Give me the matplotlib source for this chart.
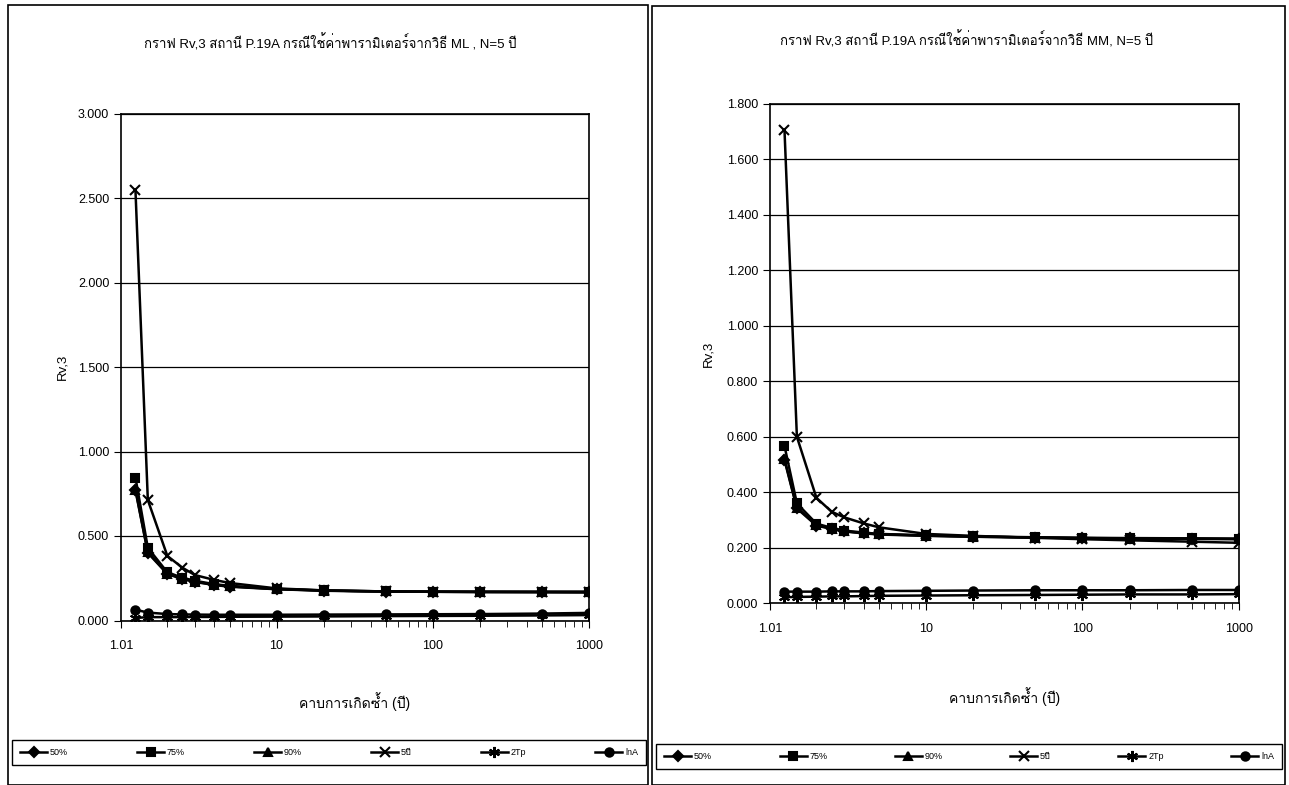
import matplotlib
matplotlib.use("Agg")
import matplotlib.pyplot as plt
from matplotlib import font_manager, ft2font
from matplotlib.patches import Rectangle
from matplotlib.ticker import FixedLocator, FixedFormatter, FormatStrFormatter, LogLocator, NullFormatter


# Pick a family that has Thai glyphs, as a fallback after Liberation Sans
def find_thai_family():
    for f in font_manager.fontManager.ttflist:
        try:
            if 0x0E01 in ft2font.FT2Font(f.fname).get_charmap():
                return f.name
        except Exception:
            continue
    return None


thai = find_thai_family()
families = ["Liberation Sans"] + ([thai] if thai else []) + ["DejaVu Sans"]
plt.rcParams["font.family"] = families

# Return periods (years)
return_period = [1.25, 1.5, 2, 2.5, 3, 4, 5, 10, 20, 50, 100, 200, 500, 1000]
series_names = ["50%", "75%", "90%", "5ปี", "2Tp", "lnA"]

# ML method
ml_50 = [0.770, 0.400, 0.275, 0.245, 0.228, 0.210, 0.200, 0.185, 0.176, 0.171, 0.170, 0.169, 0.169, 0.168]
ml_75 = [0.845, 0.430, 0.285, 0.253, 0.235, 0.215, 0.205, 0.187, 0.178, 0.172, 0.171, 0.170, 0.170, 0.170]
ml_90 = [0.775, 0.405, 0.278, 0.248, 0.230, 0.212, 0.202, 0.186, 0.177, 0.172, 0.170, 0.170, 0.169, 0.169]
ml_5y = [2.545, 0.713, 0.382, 0.312, 0.269, 0.240, 0.222, 0.190, 0.178, 0.172, 0.170, 0.168, 0.167, 0.166]
ml_2tp = [0.015, 0.020, 0.020, 0.020, 0.021, 0.021, 0.022, 0.023, 0.024, 0.026, 0.027, 0.028, 0.030, 0.032]
ml_lna = [0.064, 0.047, 0.038, 0.036, 0.035, 0.034, 0.034, 0.034, 0.035, 0.036, 0.037, 0.038, 0.041, 0.045]

# MM method
mm_50 = [0.516, 0.342, 0.280, 0.268, 0.259, 0.252, 0.248, 0.243, 0.240, 0.237, 0.235, 0.234, 0.233, 0.232]
mm_75 = [0.567, 0.360, 0.287, 0.272, 0.262, 0.255, 0.250, 0.245, 0.241, 0.238, 0.236, 0.235, 0.234, 0.233]
mm_90 = [0.520, 0.345, 0.282, 0.269, 0.260, 0.253, 0.249, 0.244, 0.240, 0.237, 0.235, 0.233, 0.232, 0.231]
mm_5y = [1.705, 0.600, 0.380, 0.330, 0.310, 0.288, 0.274, 0.250, 0.243, 0.236, 0.231, 0.227, 0.222, 0.218]
mm_2tp = [0.022, 0.023, 0.024, 0.025, 0.025, 0.026, 0.027, 0.028, 0.029, 0.030, 0.031, 0.032, 0.032, 0.033]
mm_lna = [0.042, 0.042, 0.042, 0.043, 0.043, 0.043, 0.044, 0.045, 0.046, 0.047, 0.047, 0.047, 0.048, 0.048]

markers = ["D", "s", "^", "x", (6, 2, 0), "o"]
marker_sizes = [5, 6, 6, 7, 8, 6]

x_ticks = [1.01, 10, 100, 1000]
x_tick_labels = ["1.01", "10", "100", "1000"]

fig = plt.figure(figsize=(12.89, 7.85), dpi=100)

# panel frames
fig.patches.append(Rectangle((8 / 1289, 0), 640 / 1289, 1 - 5 / 785, transform=fig.transFigure,
                             fill=False, edgecolor="black", linewidth=1.2))
fig.patches.append(Rectangle((652 / 1289, 0), 633 / 1289, 1 - 6 / 785, transform=fig.transFigure,
                             fill=False, edgecolor="black", linewidth=1.2))


def draw_panel(rect, data, ymax, ystep, title, title_xy, ylabel_x, xlabel_pad, legend_box):
    ax = fig.add_axes(rect)
    handles = []
    for vals, name, m, ms in zip(data, series_names, markers, marker_sizes):
        h, = ax.plot(return_period, vals, color="black", linewidth=1.8, marker=m,
                     markersize=ms, markeredgewidth=1.5, label=name)
        handles.append(h)
    ax.set_xscale("log")
    ax.set_xlim(1.01, 1000)
    ax.set_ylim(0, ymax)
    ax.xaxis.set_major_locator(FixedLocator(x_ticks))
    ax.xaxis.set_major_formatter(FixedFormatter(x_tick_labels))
    ax.xaxis.set_minor_locator(LogLocator(base=10, subs=range(2, 10)))
    ax.xaxis.set_minor_formatter(NullFormatter())
    yt = [round(i * ystep, 3) for i in range(int(round(ymax / ystep)) + 1)]
    ax.set_yticks(yt)
    ax.yaxis.set_major_formatter(FormatStrFormatter("%.3f"))
    ax.grid(axis="y", color="black", linewidth=0.9)
    ax.tick_params(axis="both", which="major", labelsize=9, length=5, direction="out")
    ax.tick_params(axis="x", which="major", pad=9)
    ax.tick_params(axis="x", which="minor", length=4)
    for s in ax.spines.values():
        s.set_linewidth(1.2)
    ax.set_ylabel("Rv,3", fontsize=9.5)
    ax.yaxis.set_label_coords(ylabel_x, 0.5)
    ax.set_xlabel("คาบการเกิดซ้ำ (ปี)", fontsize=10, labelpad=xlabel_pad)
    fig.text(title_xy[0], title_xy[1], title, fontsize=9.5, ha="center", va="center")
    fig.legend(handles=handles, loc="lower left", bbox_to_anchor=legend_box,
               bbox_transform=fig.transFigure, mode="expand", ncol=6, fontsize=6.5,
               frameon=True, fancybox=False, edgecolor="black", framealpha=1,
               handlelength=3.0, handletextpad=0.3, borderaxespad=0, borderpad=0.9,
               columnspacing=1.0)


draw_panel([121 / 1289, 1 - 620.5 / 785, 468 / 1289, 507 / 785],
           [ml_50, ml_75, ml_90, ml_5y, ml_2tp, ml_lna], 3.0, 0.5,
           "กราฟ Rv,3 สถานี P.19A กรณีใช้ค่าพารามิเตอร์จากวิธี ML , N=5 ปี",
           (330 / 1289, 1 - 43 / 785), -0.112, 29,
           (12 / 1289, 1 - 765 / 785, 634 / 1289, 24 / 785))

draw_panel([770 / 1289, 1 - 603.3 / 785, 469 / 1289, 499.5 / 785],
           [mm_50, mm_75, mm_90, mm_5y, mm_2tp, mm_lna], 1.8, 0.2,
           "กราฟ Rv,3 สถานี P.19A กรณีใช้ค่าพารามิเตอร์จากวิธี MM, N=5 ปี",
           (967 / 1289, 1 - 40 / 785), -0.119, 38,
           (656 / 1289, 1 - 769 / 785, 626 / 1289, 24 / 785))

fig.savefig("out.png", dpi=100)
plt.close(fig)
